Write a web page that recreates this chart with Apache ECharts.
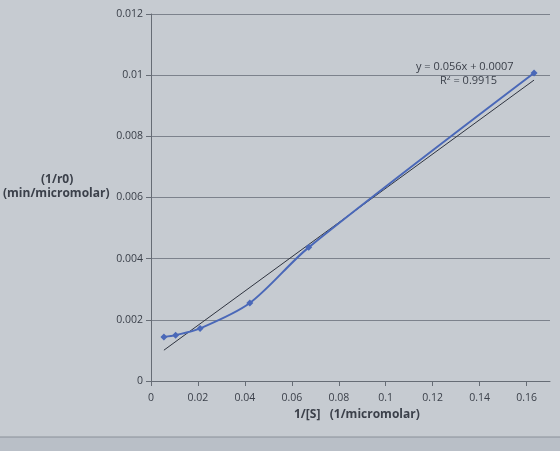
<!DOCTYPE html>
<html>
<head>
<meta charset="utf-8">
<script src="https://cdn.jsdelivr.net/npm/echarts@6/dist/echarts.min.js"></script>
<style>
html, body { margin: 0; padding: 0; background: #c6cbd1; }
#chart { width: 560px; height: 451px; }
</style>
</head>
<body>
<div id="chart"></div>
<script>
// 1/[S] (1/micromolar) and 1/r0 (min/micromolar)
var invS = [0.0055, 0.0105, 0.0209, 0.0421, 0.0672, 0.1632];
var invR = [0.00144, 0.0015, 0.00172, 0.00255, 0.00437, 0.01007];
// linear trendline shown on the chart
var slope = 0.056;
var intercept = 0.0007;
var eqText = 'y = 0.056x + 0.0007';
var r2Text = 'R\u00b2 = 0.9915';

var points = [];
for (var i = 0; i < invS.length; i++) {
	points.push([invS[i], invR[i]]);
}
var xFirst = invS[0], xLast = invS[invS.length - 1];
var trend = [[xFirst, slope * xFirst + intercept], [xLast, slope * xLast + intercept]];

var myChart = echarts.init(document.getElementById('chart'));
var txt = '#3b404a';
var option = {
	backgroundColor: '#c6cbd1',
	animation: false,
	textStyle: { fontFamily: 'Open Sans, Liberation Sans, sans-serif' },
	grid: { left: 151, top: 14, right: 10, bottom: 70 },
	xAxis: {
		type: 'value',
		min: 0,
		max: 0.17,
		interval: 0.02,
		axisLine: { lineStyle: { color: '#666c75', width: 1 } },
		axisTick: { show: true, length: 5, lineStyle: { color: '#666c75' } },
		axisLabel: { color: txt, fontSize: 10.5, margin: 12, showMaxLabel: false },
		splitLine: { show: false }
	},
	yAxis: {
		type: 'value',
		min: 0,
		max: 0.012,
		interval: 0.002,
		axisLine: { show: true, lineStyle: { color: '#666c75', width: 1 } },
		axisTick: { show: true, length: 5, inside: false, lineStyle: { color: '#666c75' } },
		axisLabel: { color: txt, fontSize: 10.5, margin: 8 },
		splitLine: { show: true, lineStyle: { color: '#7c828c', width: 1 } }
	},
	graphic: [
		{
			type: 'text', left: 41, top: 174,
			style: { text: '(1/r0)', fill: txt, font: 'bold 12px Open Sans, sans-serif' }
		},
		{
			type: 'text', left: 3, top: 188,
			style: { text: '(min/micromolar)', fill: txt, font: 'bold 12px Open Sans, sans-serif' }
		},
		{
			type: 'text', left: 294, top: 409,
			style: { text: '1/[S]   (1/micromolar)', fill: txt, font: 'bold 12px Open Sans, sans-serif' }
		},
		{
			type: 'text', left: 416, top: 61,
			style: { text: eqText, fill: txt, font: '11px Open Sans, sans-serif' }
		},
		{
			type: 'text', left: 440, top: 75,
			style: { text: r2Text, fill: txt, font: '11px Open Sans, sans-serif' }
		},
		{
			type: 'rect', left: 0, top: 437,
			shape: { width: 560, height: 14 },
			style: { fill: '#b9bfc7' }
		},
		{
			type: 'line',
			shape: { x1: 0, y1: 437, x2: 560, y2: 437 },
			style: { stroke: '#8a9099', lineWidth: 1 }
		}
	],
	series: [
		{
			name: 'trend',
			type: 'line',
			data: trend,
			symbol: 'none',
			lineStyle: { color: '#2f3440', width: 1 },
			z: 2
		},
		{
			name: '1/r0',
			type: 'line',
			data: points,
			smooth: 0.3,
			symbol: 'diamond',
			symbolSize: 7,
			itemStyle: { color: '#4a68b8' },
			lineStyle: { color: '#4a68b8', width: 2 },
			z: 3
		}
	]
};
myChart.setOption(option);
</script>
</body>
</html>
